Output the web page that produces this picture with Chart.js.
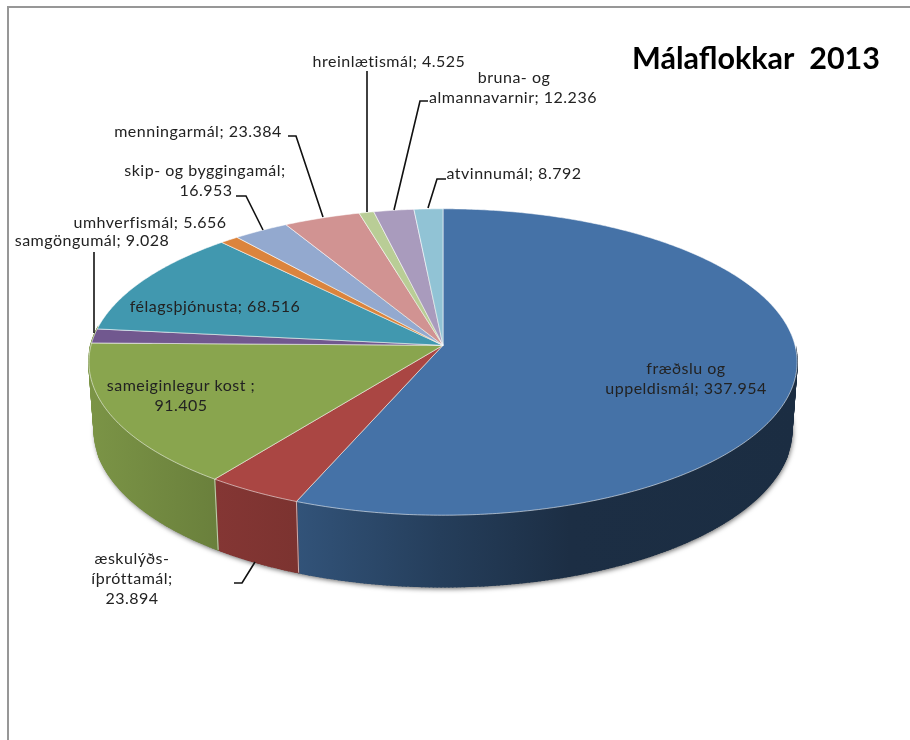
<!DOCTYPE html>
<html lang="is">
<head>
  <meta charset="UTF-8">
  <title>Málaflokkar 2013</title>
  <style>
    body { margin: 0; background: #fff; }
    .chart-container { position: relative; width: 910px; height: 740px; overflow: hidden; }
    .frame { position: absolute; left: 7px; top: 6px; width: 920px; height: 760px; border: 2px solid #979797; }
  </style>
</head>
<body>
  <div class="chart-container">
    <div class="frame"></div>
    <canvas id="pieChart" width="910" height="740" style="position:relative"></canvas>
  </div>

  <script src="https://cdn.jsdelivr.net/npm/chart.js"></script>
  <script>
    const categories = ['fræðslu og uppeldismál', 'æskulýðs- íþróttamál', 'sameiginlegur kost', 'samgöngumál', 'félagsþjónusta',
      'umhverfismál', 'skip- og byggingamál', 'menningarmál', 'hreinlætismál', 'bruna- og almannavarnir', 'atvinnumál'];
    const values = [337.954, 23.894, 91.405, 9.028, 68.516, 5.656, 16.953, 23.384, 4.525, 12.236, 8.792];
    const colors = ['#4572A7', '#AA4643', '#89A54E', '#71588F', '#4198AF', '#DB843D', '#93A9CF', '#D19392', '#B9CD96', '#A99BBD', '#91C3D5'];

    // label text, one entry per line: [text, centre x, centre y]
    const labelLines = [
      ['hreinlætismál; 4.525', 389, 62],
      ['bruna- og', 514, 78],
      ['almannavarnir; 12.236', 513, 98],
      ['atvinnumál; 8.792', 514, 174],
      ['menningarmál; 23.384', 198, 132],
      ['skip- og byggingamál;', 205, 171],
      ['16.953', 206, 191],
      ['umhverfismál; 5.656', 150, 223],
      ['samgöngumál; 9.028', 92, 241],
      ['félagsþjónusta; 68.516', 215, 307],
      ['sameiginlegur kost ;', 181, 386],
      ['91.405', 181, 406],
      ['æskulýðs-', 132, 559],
      ['íþróttamál;', 132, 579],
      ['23.894', 132, 599],
      ['fræðslu og', 686, 369],
      ['uppeldismál; 337.954', 686, 389]
    ];
    const leaderLines = [
      [[94, 252], [94, 333]],
      [[236, 196], [246, 196], [263, 230]],
      [[288, 136], [296, 136], [323, 217]],
      [[367, 71], [367, 212]],
      [[428, 101], [420, 101], [394, 210]],
      [[446, 179], [437, 179], [428, 208]],
      [[234, 583], [242, 583], [255, 562]]
    ];

    // tilted disc: perspective squeeze of the library's arcs
    const RX = 352, RY = 151.4, PERSP = 0.109;
    const WALL_CY = 430, TOP_CY = 362, WALL_SY = 1.023, WALL_SX = 0.985;
    // how dark the side wall gets going left to right
    const wallShade = [[90, 0.9], [216, 0.78], [297, 0.73], [440, 0.55], [570, 0.41], [800, 0.4]];

    function shade(hex, f) {
      const n = parseInt(hex.slice(1), 16);
      return `rgb(${(n >> 16) * f | 0},${((n >> 8) & 255) * f | 0},${(n & 255) * f | 0})`;
    }

    const pie3d = {
      id: 'pie3d',
      beforeDatasetsDraw(chart) {
        const ctx = chart.ctx;
        const arcs = chart.getDatasetMeta(0).data;
        const cx = arcs[0].x, cy = arcs[0].y;

        const top = a => {
          const d = 1 - PERSP * Math.sin(a);
          return [cx + RX * Math.cos(a) / d, cy + RY * Math.sin(a) / d];
        };
        const bottom = a => {
          const p = top(a);
          return [cx + (p[0] - cx) * WALL_SX, WALL_CY + (p[1] - TOP_CY) * WALL_SY];
        };
        const steps = (a0, a1) => {
          const n = Math.max(2, Math.ceil((a1 - a0) / 0.01));
          const out = [];
          for (let i = 0; i <= n; i++) out.push(a0 + (a1 - a0) * i / n);
          return out;
        };

        // soft shadow under the disc
        ctx.save();
        ctx.shadowColor = 'rgba(0,0,0,0.6)';
        ctx.shadowBlur = 5;
        ctx.shadowOffsetX = 1;
        ctx.shadowOffsetY = 2;
        ctx.fillStyle = '#6d873b';
        ctx.beginPath();
        steps(0, Math.PI * 2).forEach((a, i) => {
          const p = bottom(a);
          i ? ctx.lineTo(p[0], p[1]) : ctx.moveTo(p[0], p[1]);
        });
        ctx.closePath();
        ctx.fill();
        ctx.restore();

        // side walls, only the part facing us
        arcs.forEach((arc, i) => {
          if (arc.startAngle > Math.PI) return;
          const a0 = Math.max(arc.startAngle, 0.05);
          // last front slice runs on a bit so it closes the left silhouette
          const a1 = arc.endAngle > Math.PI ? arc.endAngle + 0.1 : arc.endAngle;
          const grad = ctx.createLinearGradient(90, 0, 800, 0);
          wallShade.forEach(s => grad.addColorStop((s[0] - 90) / 710, shade(colors[i], s[1])));
          ctx.fillStyle = grad;
          ctx.strokeStyle = grad;
          ctx.lineWidth = 1.5;
          const as = steps(a0, a1);
          for (let j = 0; j < as.length - 1; j++) {
            const p1 = top(as[j]), p2 = top(as[j + 1]), q2 = bottom(as[j + 1]), q1 = bottom(as[j]);
            ctx.beginPath();
            ctx.moveTo(p1[0], p1[1]);
            ctx.lineTo(p2[0], p2[1]);
            ctx.lineTo(q2[0], q2[1]);
            ctx.lineTo(q1[0], q1[1]);
            ctx.closePath();
            ctx.fill();
            ctx.stroke();
          }
        });

        // light lines on the wall: slice edges
        ctx.strokeStyle = 'rgba(255,255,255,0.6)';
        ctx.lineWidth = 1;
        [arcs[0].endAngle, arcs[1].endAngle].forEach(a => {
          const p = top(a), q = bottom(a);
          ctx.beginPath();
          ctx.moveTo(p[0], p[1]);
          ctx.lineTo(q[0], q[1]);
          ctx.stroke();
        });

        // top face
        arcs.forEach((arc, i) => {
          ctx.beginPath();
          ctx.moveTo(cx, cy);
          steps(arc.startAngle, arc.endAngle).forEach(a => {
            const p = top(a);
            ctx.lineTo(p[0], p[1]);
          });
          ctx.closePath();
          ctx.fillStyle = colors[i];
          ctx.fill();
          ctx.strokeStyle = 'rgba(255,255,255,0.55)';
          ctx.lineWidth = 1;
          ctx.stroke();
        });
        return false; // arcs are painted above
      },
      afterDraw(chart) {
        const ctx = chart.ctx;
        ctx.save();
        ctx.strokeStyle = '#111';
        ctx.lineWidth = 1.6;
        leaderLines.forEach(line => {
          ctx.beginPath();
          line.forEach((p, i) => i ? ctx.lineTo(p[0], p[1]) : ctx.moveTo(p[0], p[1]));
          ctx.stroke();
        });
        ctx.fillStyle = '#222';
        ctx.font = '16px Lato';
        ctx.letterSpacing = '0.5px';
        ctx.textAlign = 'center';
        ctx.textBaseline = 'middle';
        labelLines.forEach(l => ctx.fillText(l[0], l[1], l[2]));
        ctx.restore();
      }
    };

    new Chart(document.getElementById('pieChart'), {
      type: 'pie',
      data: {
        labels: categories,
        datasets: [{ data: values, backgroundColor: colors, borderWidth: 0 }]
      },
      options: {
        responsive: false,
        animation: false,
        events: [],
        layout: { padding: { left: 6, right: 30, bottom: 127 } },
        plugins: {
          legend: { display: false },
          tooltip: { enabled: false },
          title: {
            display: true,
            text: 'Málaflokkar  2013',
            align: 'end',
            color: '#000',
            font: { family: 'Lato', size: 30.5, weight: 'bold' },
            padding: { top: 41, bottom: 0 }
          }
        }
      },
      plugins: [pie3d]
    });
  </script>
</body>
</html>
